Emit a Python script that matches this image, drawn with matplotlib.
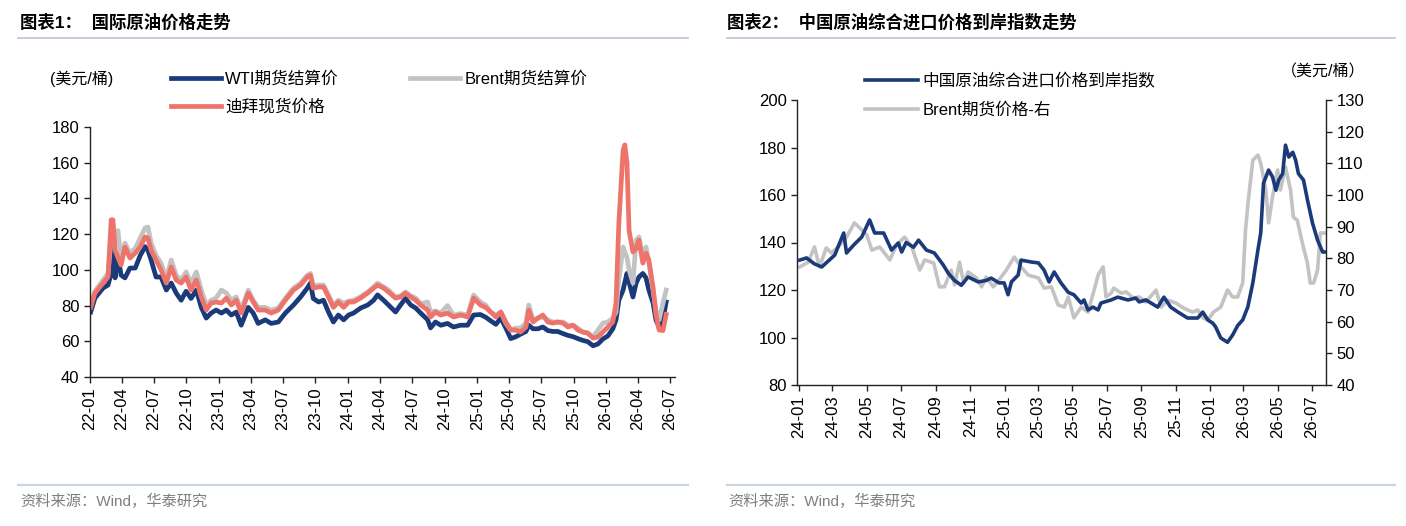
import numpy as np
import pandas as pd
import matplotlib
matplotlib.use('Agg')
import matplotlib.pyplot as plt
import matplotlib.dates as mdates
from matplotlib.lines import Line2D

plt.rcParams['font.family'] = ['Liberation Sans', 'Noto Sans CJK SC']

# ---- chart 1 data: international crude prices (USD/bbl)
dates1 = ['2022-01-03', '2022-01-15', '2022-02-07', '2022-02-21', '2022-03-02', '2022-03-07', '2022-03-13',
          '2022-03-21', '2022-03-30', '2022-04-10', '2022-04-24', '2022-05-09', '2022-05-23', '2022-06-06',
          '2022-06-14', '2022-06-23', '2022-07-07', '2022-07-21', '2022-08-05', '2022-08-19', '2022-09-02',
          '2022-09-16', '2022-09-30', '2022-10-14', '2022-10-29', '2022-11-12', '2022-11-26', '2022-12-10',
          '2022-12-24',
          '2023-01-08', '2023-01-22', '2023-02-05', '2023-02-19', '2023-03-05', '2023-03-25', '2023-04-08',
          '2023-04-22', '2023-05-12', '2023-05-29', '2023-06-18', '2023-07-08', '2023-07-31', '2023-08-20',
          '2023-09-08', '2023-09-17', '2023-09-25', '2023-10-10', '2023-10-24', '2023-11-07', '2023-11-21',
          '2023-12-05', '2023-12-20',
          '2024-01-03', '2024-01-17', '2024-02-06', '2024-02-26', '2024-03-14', '2024-03-25', '2024-04-11',
          '2024-04-25', '2024-05-15', '2024-05-29', '2024-06-12', '2024-06-27', '2024-07-11', '2024-07-25',
          '2024-08-14', '2024-08-22', '2024-09-05', '2024-09-20', '2024-10-09', '2024-10-26', '2024-11-15',
          '2024-12-05', '2024-12-22',
          '2025-01-10', '2025-01-25', '2025-02-08', '2025-02-23', '2025-03-09', '2025-03-23', '2025-04-06',
          '2025-04-20', '2025-05-04', '2025-05-19', '2025-05-27', '2025-06-08', '2025-06-22', '2025-07-06',
          '2025-07-20', '2025-08-03', '2025-08-17', '2025-09-01', '2025-09-15', '2025-09-29', '2025-10-13',
          '2025-10-27', '2025-11-10', '2025-11-25', '2025-12-09', '2025-12-23',
          '2026-01-06', '2026-01-20', '2026-01-29', '2026-02-06', '2026-02-18', '2026-02-23', '2026-03-01',
          '2026-03-07', '2026-03-18', '2026-03-27', '2026-04-04', '2026-04-15', '2026-04-24', '2026-05-02',
          '2026-05-14', '2026-05-22', '2026-05-31', '2026-06-11', '2026-06-20']

wti = [76.4, 84.2, 89.8, 91.5, 98, 116, 95.5, 108, 97, 95.5,
       101, 101, 108, 113, 111, 105.5, 96, 96, 88.7, 92.6,
       87, 83, 88, 84, 88.7, 79, 73, 75.8, 77.5,
       75.8, 77.5, 74.7, 76.4, 69, 79, 75.8, 70, 72, 70,
       70.8, 75.8, 80.3, 84.8, 89.8, 92.6, 84, 82, 83, 76.4,
       70.8, 74.7, 72,
       74.7, 75.8, 78.6, 80.3, 83, 86, 83, 80.3, 76.4, 80.3,
       84, 80.3, 78.6, 75.8, 72, 67.5, 70.8, 69, 70, 68,
       69, 69, 74.7,
       75, 73.5, 71.5, 69.5, 73, 67.5, 61.5, 62.5, 64, 65.5,
       69, 67, 67, 68, 66, 65.5, 65.5, 64.3, 63.3, 62.6,
       61.5, 60.5, 59.8, 57.5, 58.5, 61.3,
       63, 67, 72, 83, 88.7, 93, 98, 93, 84.8, 92.6,
       96, 98, 95.5, 88.7, 81.4, 72, 68, 72, 82]

brent = [80.3, 88, 94.3, 98, 118, 120.6, 115, 122, 105.5, 115,
         109.4, 112, 117.8, 123.4, 124, 115, 108, 103.8, 95.5, 105.5,
         97, 94.3, 98.8, 92.6, 98.8, 88.7, 80.3, 83, 84.2,
         88.7, 87, 83, 84.8, 77.5, 88.7, 83, 79, 79, 77.5,
         78.6, 84.2, 89.8, 92.5, 97, 98, 91, 91.5, 91.5, 86,
         80.3, 83, 81.4,
         82.5, 83, 85, 87.6, 90.5, 92.6, 90.5, 88.7, 84.8, 85.5,
         87.6, 85.5, 84.2, 81, 82, 76.4, 77, 75.8, 80, 74.7,
         75.5, 74.7, 85.9,
         82, 80.3, 76.4, 74.7, 76.4, 70.2, 66.3, 67.4, 67.4, 70.2,
         80.3, 72, 73, 73.6, 72, 70.8, 70.8, 70.8, 69, 69,
         67.4, 65.2, 64.6, 62.4, 66.3, 70.2,
         70.8, 73, 76.4, 94.3, 112.8, 110, 107, 100, 92.6, 116.7,
         118.4, 107, 112.8, 103.8, 88.7, 77.5, 72, 81.4, 88.7]

dubai = [79, 87, 92.6, 96, 128, 128, 111, 107, 102.7, 112.8,
         106.6, 109.4, 112.8, 118.4, 117.8, 111, 105.5, 100, 92.6, 101.6,
         94.3, 92.6, 96, 88.7, 94.3, 84.8, 77.5, 81.4, 82,
         81.4, 84.2, 80.3, 83, 75.8, 87, 82, 77.5, 77.5, 75.8,
         77.5, 83, 88.7, 91.5, 96, 97, 89.8, 90.4, 90.4, 84.8,
         79, 82, 79,
         82, 82, 84.2, 87, 89.8, 91.5, 89.8, 87.6, 84.2, 84.8,
         87, 84.8, 83, 80.3, 77.5, 73.6, 76.4, 74.7, 75.8, 73.6,
         74.7, 73.6, 84.2,
         80.3, 79, 76.4, 73.6, 76.4, 70.8, 66.3, 66.3, 65.2, 68,
         77.5, 70.8, 73, 74.7, 70.8, 70.2, 70.8, 70.2, 68, 69,
         66.3, 65.2, 64.6, 61.8, 62.4, 65.2,
         68, 70.8, 81.4, 126, 167, 170, 160, 122, 110, 112,
         116.7, 103.8, 109.4, 105.5, 90, 75, 66.3, 66, 75]

# ---- chart 2 data: China crude import CIF index (left) and Brent (right)
dates_idx = ['2024-01-03', '2024-01-15', '2024-01-29', '2024-02-11', '2024-03-05', '2024-03-21', '2024-03-26',
             '2024-04-08', '2024-04-22', '2024-05-06', '2024-05-15', '2024-05-31', '2024-06-14', '2024-06-26',
             '2024-07-02', '2024-07-10', '2024-07-23', '2024-08-01', '2024-08-15', '2024-08-29', '2024-09-14',
             '2024-09-23', '2024-10-04', '2024-10-16', '2024-10-28', '2024-11-15', '2024-11-29', '2024-12-08',
             '2024-12-22', '2024-12-31', '2025-01-07', '2025-01-13', '2025-01-25', '2025-01-30', '2025-02-17',
             '2025-03-02', '2025-03-12', '2025-03-21', '2025-03-30', '2025-04-11', '2025-04-24', '2025-05-04',
             '2025-05-17', '2025-05-22', '2025-05-29', '2025-06-07', '2025-06-16', '2025-06-21', '2025-07-09',
             '2025-07-21', '2025-08-08', '2025-08-22', '2025-08-28', '2025-09-09', '2025-09-30', '2025-10-11',
             '2025-10-23', '2025-11-05', '2025-11-22', '2025-12-10', '2025-12-19', '2025-12-28', '2026-01-06',
             '2026-01-11', '2026-01-20', '2026-02-01', '2026-02-10', '2026-02-19', '2026-02-28', '2026-03-09',
             '2026-03-18', '2026-03-27', '2026-04-01', '2026-04-06', '2026-04-15', '2026-04-22', '2026-04-28',
             '2026-05-03', '2026-05-10', '2026-05-15', '2026-05-21', '2026-05-28', '2026-06-02', '2026-06-07',
             '2026-06-16', '2026-06-23', '2026-07-02', '2026-07-11', '2026-07-20', '2026-07-25']
cif_index = [132.6, 133.5, 131, 129.7, 134.7, 144, 135.6, 139, 142.3, 149.5, 144, 144, 136.8, 139.8,
             136, 140, 138, 141, 136.8, 135.6, 130.5, 127, 124, 122, 125.5, 123.4, 124, 125,
             123, 123, 118, 123.4, 126.3, 132.6, 131.8, 131.4, 128.4, 123.4, 127.6, 123, 119, 118,
             114.5, 115.8, 111.6, 112.8, 111.6, 114.5, 115.8, 117, 115.8, 116.6, 115, 115.8, 112.8, 117,
             112.8, 110.7, 108.2, 108.2, 110.7, 107.4, 106, 104.4, 99.8, 98, 101, 105, 107.4, 112.8,
             123, 136.8, 144, 165, 170.5, 167.6, 162, 166.3, 169, 181, 176, 178, 174.7, 169,
             166.3, 158, 148.2, 141, 136, 136]

dates_brent = ['2024-01-03', '2024-01-18', '2024-01-29', '2024-02-07', '2024-02-19', '2024-02-28', '2024-03-11',
               '2024-03-26', '2024-04-09', '2024-04-22', '2024-05-01', '2024-05-10', '2024-05-24', '2024-06-11',
               '2024-06-23', '2024-07-07', '2024-07-20', '2024-08-03', '2024-08-12', '2024-08-28', '2024-09-07',
               '2024-09-16', '2024-09-28', '2024-10-04', '2024-10-13', '2024-10-20', '2024-10-28', '2024-11-12',
               '2024-11-21', '2024-11-29', '2024-12-12', '2024-12-22', '2025-01-04', '2025-01-18', '2025-01-30',
               '2025-02-12', '2025-03-02', '2025-03-12', '2025-03-25', '2025-04-06', '2025-04-17', '2025-04-24',
               '2025-05-04', '2025-05-17', '2025-05-29', '2025-06-09', '2025-06-16', '2025-06-25', '2025-06-30',
               '2025-07-09', '2025-07-14', '2025-07-27', '2025-08-05', '2025-08-17', '2025-08-28', '2025-09-09',
               '2025-09-27', '2025-10-06', '2025-10-18', '2025-11-01', '2025-11-15', '2025-12-01', '2025-12-10',
               '2025-12-19', '2025-12-28', '2026-01-07', '2026-01-20', '2026-02-01', '2026-02-10', '2026-02-19',
               '2026-02-28', '2026-03-05', '2026-03-10', '2026-03-18', '2026-03-27', '2026-04-01', '2026-04-10',
               '2026-04-15', '2026-04-22', '2026-05-01', '2026-05-06', '2026-05-15', '2026-05-24', '2026-05-29',
               '2026-06-05', '2026-06-14', '2026-06-23', '2026-06-28', '2026-07-04', '2026-07-11', '2026-07-16',
               '2026-07-25']
brent_fut = [77.3, 78.8, 83.6, 77.3, 83.3, 81.7, 83.6, 86.7, 91.2, 89, 87.4, 82.6, 83.6, 79.5,
             84.2, 86.7, 83.6, 76.3, 79.5, 78.5, 71, 71, 76.3, 71.6, 78.8, 72.2, 75.7, 73.8,
             71, 74.1, 71, 73.2, 76.3, 80.4, 77.3, 74.7, 73.8, 70.6, 71, 65.3, 64.6, 67.8,
             61.2, 64.6, 63, 70, 74.7, 77.3, 67.8, 69, 70.6, 69, 69.4, 67.5, 67.8, 66.2,
             70, 64.6, 66.8, 65.9, 64.3, 63, 63.7, 61.2, 60.5, 63, 64.6, 70, 67.8, 67.8,
             72.2, 89, 98.4, 111, 112.6, 110, 101.6, 91.2, 99.4, 107.9, 101.6, 108.8, 101.6, 93,
             92, 84.8, 78.5, 72.2, 72.2, 76.3, 88, 88]

NAVY = '#1B3A7A'
GREY = '#C3C3C3'
SALMON = '#EE736B'
RULE = '#B9C5D9'

W, H = 1406, 526
fig = plt.figure(figsize=(W / 100, H / 100), dpi=100)


def fx(px):
    return px / W


def fy(py):
    return 1 - py / H


def style_axis(ax):
    for s in ['top', 'right']:
        ax.spines[s].set_visible(False)
    for s in ['left', 'bottom']:
        ax.spines[s].set_linewidth(1.0)
        ax.spines[s].set_color('#222222')
    ax.tick_params(direction='out', length=4, width=1, labelsize=12, color='#222222')
    plt.setp(ax.get_xticklabels(), rotation=90)


# ---------------- chart 1
ax1 = fig.add_axes([fx(90), fy(377), fx(585), 250 / H])
d1 = pd.to_datetime(dates1)
l_wti, = ax1.plot(d1, wti, color=NAVY, lw=3.4, label='WTI期货结算价')
l_brent, = ax1.plot(d1, brent, color=GREY, lw=3.4, label='Brent期货结算价')
l_dubai, = ax1.plot(d1, dubai, color=SALMON, lw=3.4, label='迪拜现货价格')
ax1.set_ylim(40, 180)
ax1.set_yticks(np.arange(40, 181, 20))
ax1.set_xlim(pd.Timestamp('2022-01-01'), pd.Timestamp('2026-07-15'))
ax1.xaxis.set_major_locator(mdates.MonthLocator(bymonth=[1, 4, 7, 10]))
ax1.xaxis.set_major_formatter(mdates.DateFormatter('%y-%m'))
style_axis(ax1)

fig.legend(handles=[l_wti, l_dubai, l_brent], ncol=2, loc='upper left',
           bbox_to_anchor=(fx(171), fy(71)), frameon=False, fontsize=12,
           handlelength=3.0, handletextpad=0.25, columnspacing=4.3,
           labelspacing=0.75, borderpad=0, borderaxespad=0)
fig.text(fx(50), fy(79), '(美元/桶)', fontsize=11.5, va='center', ha='left')

# ---------------- chart 2
ax2 = fig.add_axes([fx(797), fy(385), fx(529), 285 / H])
ax2r = ax2.twinx()
di = pd.to_datetime(dates_idx)
db = pd.to_datetime(dates_brent)
l_idx, = ax2.plot(di, cif_index, color=NAVY, lw=2.6, label='中国原油综合进口价格到岸指数')
l_bf, = ax2r.plot(db, brent_fut, color=GREY, lw=2.6, label='Brent期货价格-右')
ax2.set_zorder(ax2r.get_zorder() + 1)
ax2.patch.set_visible(False)
ax2.set_ylim(80, 200)
ax2.set_yticks(np.arange(80, 201, 20))
ax2r.set_ylim(40, 130)
ax2r.set_yticks(np.arange(40, 131, 10))
ax2.set_xlim(pd.Timestamp('2023-12-29'), pd.Timestamp('2026-07-26'))
ax2.xaxis.set_major_locator(mdates.MonthLocator(bymonth=[1, 3, 5, 7, 9, 11]))
ax2.xaxis.set_major_formatter(mdates.DateFormatter('%y-%m'))
style_axis(ax2)
for s in ['top', 'left', 'bottom']:
    ax2r.spines[s].set_visible(False)
ax2r.spines['right'].set_linewidth(1.0)
ax2r.spines['right'].set_color('#222222')
ax2r.tick_params(direction='out', length=4, width=1, labelsize=12, color='#222222')

fig.legend(handles=[l_idx, l_bf], ncol=1, loc='upper left',
           bbox_to_anchor=(fx(865), fy(73)), frameon=False, fontsize=12,
           handlelength=3.2, handletextpad=0.25, labelspacing=0.8,
           borderpad=0, borderaxespad=0)
fig.text(fx(1365), fy(72), '（美元/桶）', fontsize=11.5, va='center', ha='right')

# ---------------- headers / footers
fig.text(fx(20), fy(22), '图表1：  国际原油价格走势', fontsize=12.5, weight='bold', va='center')
fig.text(fx(727), fy(22), '图表2：  中国原油综合进口价格到岸指数走势', fontsize=12.5, weight='bold', va='center')
for x0, x1 in [(18, 688), (727, 1395)]:
    fig.add_artist(Line2D([fx(x0), fx(x1)], [fy(38), fy(38)], color=RULE, lw=1.2))
    fig.add_artist(Line2D([fx(x0), fx(x1)], [fy(485), fy(485)], color='#CCD5E3', lw=1.6))
fig.text(fx(20), fy(501), '资料来源：Wind，华泰研究', fontsize=11, color='#7F7F7F', va='center')
fig.text(fx(728), fy(501), '资料来源：Wind，华泰研究', fontsize=11, color='#7F7F7F', va='center')

fig.savefig('out.png', dpi=100)
